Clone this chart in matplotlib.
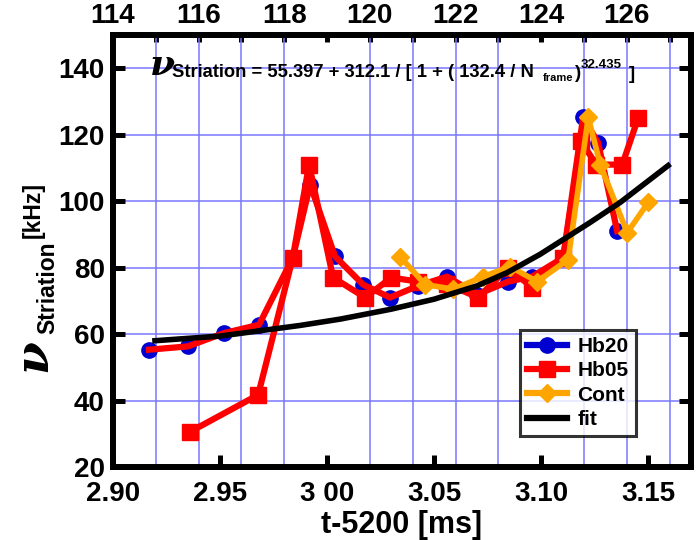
import matplotlib
matplotlib.use("Agg")
import matplotlib.pyplot as plt
from matplotlib.lines import Line2D

plt.rcParams['font.family'] = ['Liberation Sans', 'DejaVu Sans']
plt.rcParams['font.weight'] = 'bold'

# ---------------- data ----------------
hb20_t = [2.9168, 2.9350, 2.9519, 2.9682, 2.9840, 2.9921, 3.0037, 3.0168, 3.0294,
          3.0425, 3.0561, 3.0701, 3.0846, 3.0958, 3.1103, 3.1196, 3.1266, 3.1355]
hb20_v = [55.3, 56.3, 60.3, 62.8, 83.0, 105.0, 83.4, 74.9, 71.0,
          74.5, 77.3, 71.9, 75.8, 77.3, 83.0, 125.2, 117.6, 91.0]

hb05_t = [2.9360, 2.9678, 2.9840, 2.9916, 3.0028, 3.0178, 3.0300, 3.0425, 3.0561,
          3.0706, 3.0846, 3.0958, 3.1103, 3.1187, 3.1257, 3.1379, 3.1453]
hb05_v = [30.6, 41.7, 83.0, 111.0, 77.0, 71.0, 77.0, 75.8, 75.0,
          71.0, 80.0, 74.0, 83.0, 118.0, 111.0, 111.0, 125.0]

cont_t = [3.0341, 3.0458, 3.0590, 3.0729, 3.0855, 3.0981, 3.1126, 3.1220, 3.1276, 3.1402, 3.1500]
cont_v = [83.3, 74.9, 73.5, 77.3, 80.3, 75.8, 82.4, 125.2, 111.0, 90.5, 99.6]

fit_t = [2.9196, 2.9500, 2.9874, 3.0061, 3.0300, 3.0500, 3.0700, 3.0841, 3.0995, 3.1229, 3.1369, 3.1593]
fit_v = [58.0, 59.4, 62.6, 64.5, 67.5, 70.5, 74.5, 78.5, 84.0, 93.6, 99.6, 110.7]

x_ticks = [2.90, 2.95, 3.00, 3.05, 3.10, 3.15]
x_ticklabels = ['2.90', '2.95', '3 00', '3.05', '3.10', '3.15']
y_ticks = [20, 40, 60, 80, 100, 120, 140]
frame_ticks = list(range(114, 128))
frame_labels = [str(f) if f % 2 == 0 else '' for f in frame_ticks]

# ---------------- figure ----------------
W, H = 700, 540
fig = plt.figure(figsize=(W / 100, H / 100), dpi=100)
ax = fig.add_axes([113 / W, 1 - 467 / H, (691 - 113) / W, (467 - 35) / H])
ax.set_xlim(2.90, 3.17)
ax.set_ylim(20, 150)


def t2f(t):
    return 114 + (t - 2.90) / 0.02


def f2t(f):
    return 2.90 + (f - 114) * 0.02


grid_c = '#7878ff'
ax.set_xticks([f2t(f) for f in frame_ticks[1:]], minor=True)
ax.grid(True, which='minor', axis='x', color=grid_c, lw=1.1)
ax.grid(True, which='major', axis='y', color=grid_c, lw=1.1)
ax.set_axisbelow(True)

lw_d = 4.5
ms = 11
# Hb20: blue markers with red connecting line
ax.plot(hb20_t, hb20_v, ls='none', marker='o', ms=ms, color='#0000d0', zorder=3)
ax.plot(hb20_t, hb20_v, color='red', lw=lw_d, zorder=4)
ax.plot(hb05_t, hb05_v, color='red', lw=lw_d, marker='s', ms=ms, zorder=5)
ax.plot(cont_t, cont_v, color='orange', lw=lw_d * 0.9, marker='D', ms=ms * 0.85, zorder=6)
ax.plot(fit_t, fit_v, color='black', lw=4, zorder=7)

# ticks
ax.set_xticks(x_ticks)
ax.set_xticklabels(x_ticklabels)
ax.set_yticks(y_ticks)
ax.tick_params(axis='x', which='major', direction='in', length=8.5, width=3.6,
               labelsize=20, pad=10, top=False)
ax.tick_params(axis='x', which='minor', length=0)
ax.tick_params(axis='y', which='major', direction='in', length=8.5, width=3.6,
               labelsize=20, right=True, pad=6)
for s in ax.spines.values():
    s.set_linewidth(4.3)
    s.set_capstyle('projecting')

sec = ax.secondary_xaxis('top', functions=(t2f, f2t))
sec.set_xticks(frame_ticks)
sec.set_xticklabels(frame_labels)
sec.tick_params(direction='in', length=5, width=3.6, labelsize=20, pad=4)
sec.spines['top'].set_linewidth(4.3)

ax.set_xlabel('t-5200 [ms]', fontsize=22, fontweight='bold', labelpad=2)

# y label pieces
fig.text(33 / W, 1 - 356 / H, 'ν', family='DejaVu Serif', style='italic',
         fontsize=34, rotation=90, ha='center', va='center')
fig.text(48 / W, 1 - 288 / H, 'Striation', fontsize=16.5, fontweight='bold',
         rotation=90, ha='center', va='center')
fig.text(33 / W, 1 - 210 / H, '[kHz]', fontsize=16.5, fontweight='bold',
         rotation=90, ha='center', va='center')

# equation
fig.text(150 / W, 1 - 75 / H, 'ν', family='DejaVu Serif', style='italic',
         fontsize=26, ha='left', va='baseline')
fig.text(172 / W, 1 - 77 / H, 'Striation = 55.397 + 312.1 / [ 1 + ( 132.4 / N',
         fontsize=13.2, ha='left', va='baseline')
fig.text(543 / W, 1 - 81 / H, 'frame', fontsize=8, ha='left', va='baseline')
fig.text(575 / W, 1 - 78 / H, ')', fontsize=13.5, ha='left', va='baseline')
fig.text(581 / W, 1 - 68 / H, '32.435', fontsize=9.5, ha='left', va='baseline')
fig.text(629 / W, 1 - 79 / H, ']', fontsize=13.5, ha='left', va='baseline')

# legend
handles = [
    Line2D([], [], color='#0000d0', lw=lw_d, marker='o', ms=ms),
    Line2D([], [], color='red', lw=lw_d, marker='s', ms=ms),
    Line2D([], [], color='orange', lw=lw_d, marker='D', ms=ms * 0.85),
    Line2D([], [], color='black', lw=lw_d),
]
leg = ax.legend(handles, ['Hb20', 'Hb05', 'Cont', 'fit'], loc='upper left',
                bbox_to_anchor=((520 - 113) / (691 - 113), (467 - 330) / (467 - 35)),
                prop={'weight': 'bold', 'size': 15}, frameon=True, fancybox=False,
                handlelength=1.9, handletextpad=0.5, borderpad=0.35, labelspacing=0.25,
                borderaxespad=0)
leg.get_frame().set_edgecolor('black')
leg.get_frame().set_linewidth(2.2)
leg.set_zorder(10)

fig.savefig('out.png', dpi=100)
